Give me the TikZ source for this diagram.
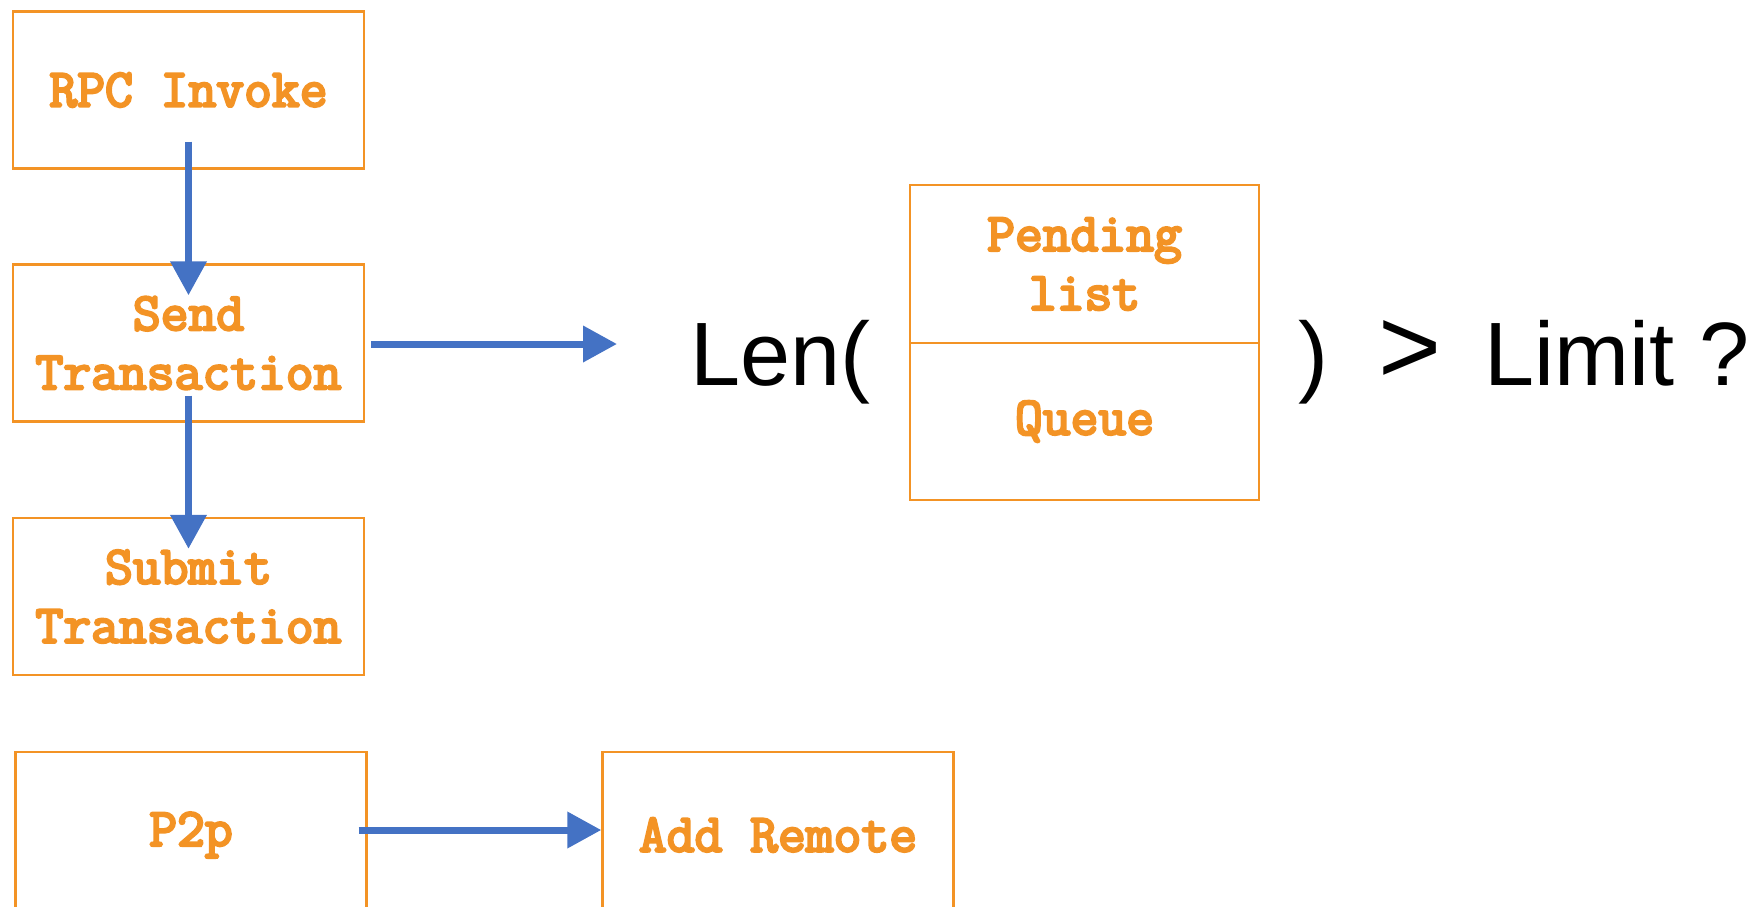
\documentclass[tikz,border=0pt]{standalone}
\usepackage{fontspec}
\setmainfont{Liberation Sans}
\newfontfamily\codefont[FakeBold=4.5]{Latin Modern Mono}
\usetikzlibrary{arrows.meta,calc}
\definecolor{boxorange}{HTML}{F39325}
\definecolor{arrowblue}{HTML}{4472C4}
\begin{document}
\begin{tikzpicture}[x=0.5pt,y=-0.5pt,
  box/.style={draw=boxorange, line width=1.2pt, inner sep=0pt, text=boxorange,
    font=\codefont\fontsize{27}{29.5}\selectfont, align=center,
    minimum width=175.5pt, minimum height=78.5pt},
  flow/.style={draw=arrowblue, line width=3.5pt, -{Triangle[length=17pt,width=17.5pt]}},
  big/.style={font=\fontsize{45}{54}\selectfont, inner sep=0pt, anchor=base west}]
\clip (0,0) rectangle (1750,906);
% left column
\node[box] (rpc) at (188.5,90) {RPC Invoke};
\node[box] (send) at (188.5,343) {Send\\Transaction};
\node[box] (submit) at (188.5,596.5) {Submit\\Transaction};
\node[box, minimum height=83pt] (p2p) at (191,835) {P2p};
\node[box, minimum height=83pt] (addr) at (778,835) {Add Remote};
% pending / queue
\node[box, minimum width=174.5pt, minimum height=79pt] (pending) at (1084.5,264) {Pending\\list};
\node[box, minimum width=174.5pt] (queue) at (1084.5,421.5) {Queue};
% formula text
\node[big] (len) at (690,385) {Len(};
\node[big] (close) at (1298,385) {)};
\node[big, scale=1.2] (gt) at (1378,383) {>};
\node[big] (limit) at (1484,385) {Limit ?};
% connectors
\coordinate (a1s) at ($(rpc.south)+(0,-28)$);
\coordinate (a1e) at ($(send.north)+(0,32)$);
\coordinate (a2s) at ($(send.south)+(0,-27)$);
\coordinate (a2e) at ($(submit.north)+(0,32)$);
\coordinate (a3s) at ($(send.east)+(6,1)$);
\coordinate (a3e) at ($(len.west|-a3s)+(-73,0)$);
\coordinate (a4s) at ($(p2p.east)+(-9,-5)$);
\coordinate (a4e) at (addr.west|-a4s);
\draw[flow] (a1s) -- (a1e);
\draw[flow] (a2s) -- (a2e);
\draw[flow] (a3s) -- (a3e);
\draw[flow] (a4s) -- (a4e);
\end{tikzpicture}
\end{document}
